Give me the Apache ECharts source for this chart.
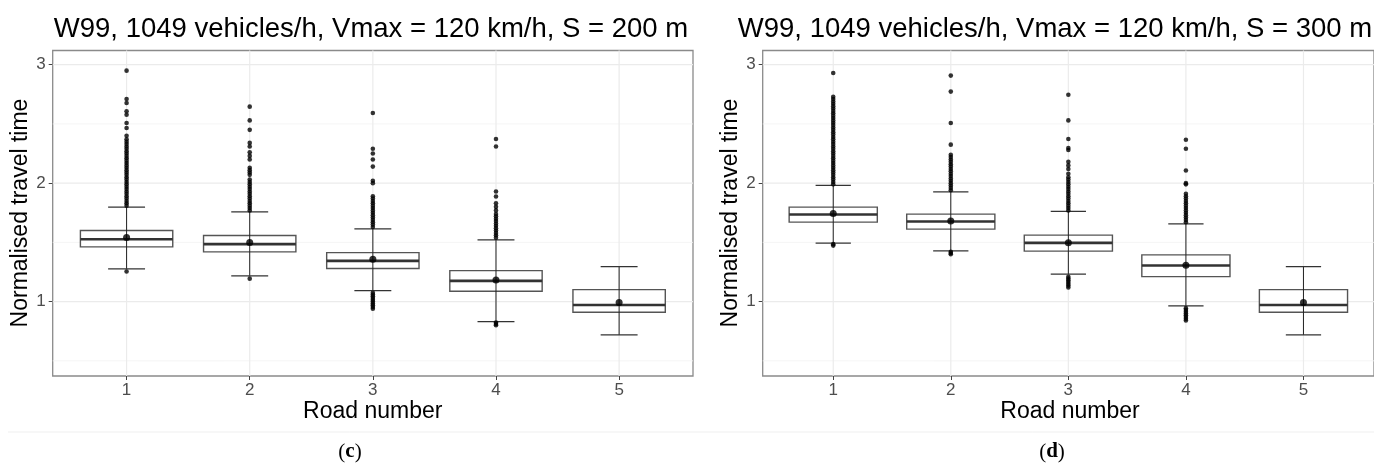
<!DOCTYPE html>
<html>
<head>
<meta charset="utf-8">
<script src="https://cdn.jsdelivr.net/npm/echarts@6/dist/echarts.min.js"></script>
<style>html,body{margin:0;padding:0;background:#fff}#c{width:1374px;height:464px}</style>
</head>
<body>
<div id="c"></div>
<script>
// ---------- data ----------
const roads = [1, 2, 3, 4, 5];
const yMajor = [1, 2, 3];
const yMinor = [0.5, 1.5, 2.5];
const titleC = 'W99, 1049 vehicles/h, Vmax = 120 km/h, S = 200 m';
const titleD = 'W99, 1049 vehicles/h, Vmax = 120 km/h, S = 300 m';
const xTitle = 'Road number';
const yTitle = 'Normalised travel time';

// panel (c) S = 200 m
const c_lowCap  = [1.276, 1.217, 1.093, 0.831, 0.719];
const c_q1      = [1.462, 1.420, 1.279, 1.088, 0.910];
const c_median  = [1.527, 1.485, 1.344, 1.175, 0.972];
const c_q3      = [1.600, 1.558, 1.414, 1.262, 1.101];
const c_highCap = [1.798, 1.758, 1.614, 1.522, 1.296];
const c_mean    = [1.541, 1.499, 1.358, 1.183, 0.992];
const c_out1 = [1.254, 1.81, 1.83, 1.85, 1.87, 1.89, 1.91, 1.93, 1.95, 1.97, 1.99, 2.01, 2.03, 2.05, 2.07, 2.09, 2.11, 2.13, 2.15, 2.17, 2.19, 2.21, 2.23, 2.25, 2.27, 2.29, 2.31, 2.33, 2.35, 2.37, 2.40, 2.466, 2.508, 2.578, 2.607, 2.677, 2.711, 2.95];
const c_out2 = [1.194, 1.77, 1.79, 1.81, 1.83, 1.85, 1.87, 1.89, 1.91, 1.93, 1.95, 1.97, 1.99, 2.01, 2.03, 2.07, 2.09, 2.11, 2.13, 2.20, 2.23, 2.26, 2.31, 2.34, 2.45, 2.53, 2.646];
const c_out3 = [0.94, 0.955, 0.97, 0.985, 1.00, 1.015, 1.03, 1.045, 1.06, 1.075, 1.63, 1.65, 1.67, 1.69, 1.71, 1.73, 1.75, 1.77, 1.79, 1.81, 1.83, 1.85, 1.87, 1.89, 2.00, 2.02, 2.14, 2.20, 2.25, 2.29, 2.592];
const c_out4 = [0.80, 0.812, 0.824, 1.54, 1.56, 1.58, 1.60, 1.62, 1.64, 1.66, 1.68, 1.70, 1.72, 1.74, 1.77, 1.80, 1.83, 1.888, 1.93, 2.31, 2.373];
const c_out5 = [];

// panel (d) S = 300 m
const d_lowCap  = [1.494, 1.429, 1.232, 0.964, 0.719];
const d_q1      = [1.671, 1.612, 1.426, 1.211, 0.910];
const d_median  = [1.735, 1.676, 1.496, 1.305, 0.972];
const d_q3      = [1.798, 1.739, 1.561, 1.395, 1.101];
const d_highCap = [1.981, 1.927, 1.761, 1.657, 1.296];
const d_mean    = [1.744, 1.680, 1.496, 1.308, 0.992];
const d_out1 = [1.473, 1.485, 1.99, 2.01, 2.03, 2.05, 2.07, 2.09, 2.11, 2.13, 2.15, 2.17, 2.19, 2.21, 2.23, 2.25, 2.27, 2.29, 2.31, 2.33, 2.35, 2.37, 2.39, 2.41, 2.43, 2.45, 2.47, 2.49, 2.51, 2.53, 2.55, 2.57, 2.59, 2.61, 2.63, 2.65, 2.67, 2.69, 2.71, 2.73, 2.93];
const d_out2 = [1.40, 1.41, 1.42, 1.94, 1.96, 1.98, 2.00, 2.02, 2.04, 2.06, 2.08, 2.10, 2.12, 2.14, 2.16, 2.18, 2.20, 2.22, 2.24, 2.325, 2.508, 2.773, 2.908];
const d_out3 = [1.12, 1.135, 1.15, 1.165, 1.18, 1.195, 1.21, 1.77, 1.79, 1.81, 1.83, 1.85, 1.87, 1.89, 1.91, 1.93, 1.95, 1.97, 1.99, 2.01, 2.03, 2.05, 2.08, 2.12, 2.15, 2.18, 2.28, 2.297, 2.373, 2.53, 2.747];
const d_out4 = [0.84, 0.855, 0.87, 0.885, 0.90, 0.915, 0.93, 0.945, 1.67, 1.69, 1.71, 1.73, 1.75, 1.77, 1.79, 1.81, 1.83, 1.85, 1.87, 1.89, 1.91, 1.99, 2.00, 2.107, 2.29, 2.367];
const d_out5 = [];

// ---------- build ----------
const chart = echarts.init(document.getElementById('c'), null, {renderer: 'canvas'});

function boxData(lo, q1, med, q3, hi) {
  return roads.map((r, i) => [r, lo[i], q1[i], med[i], q3[i], hi[i]]);
}
function outData(lists) {
  const res = [];
  lists.forEach((l, i) => l.forEach(v => res.push([roads[i], v])));
  return res;
}
function meanData(m) { return roads.map((r, i) => [r, m[i]]); }

function renderBox(params, api) {
  const x = api.value(0);
  const unit = api.size([1, 0])[0];
  const hw = unit * 0.375, cw = unit * 0.15;
  const pLo = api.coord([x, api.value(1)]);
  const pQ1 = api.coord([x, api.value(2)]);
  const pMd = api.coord([x, api.value(3)]);
  const pQ3 = api.coord([x, api.value(4)]);
  const pHi = api.coord([x, api.value(5)]);
  const cx = pMd[0];
  return {
    type: 'group',
    children: [
      {type: 'rect', shape: {x: cx - hw, y: pQ3[1], width: 2 * hw, height: pQ1[1] - pQ3[1]},
       style: {fill: '#fff', stroke: '#555', lineWidth: 1.4}},
      {type: 'line', shape: {x1: cx - hw, y1: pMd[1], x2: cx + hw, y2: pMd[1]},
       style: {stroke: '#333', lineWidth: 2.6}},
      {type: 'line', shape: {x1: cx, y1: pLo[1], x2: cx, y2: pHi[1]},
       style: {stroke: '#222', lineWidth: 1}},
      {type: 'line', shape: {x1: cx - cw, y1: pLo[1], x2: cx + cw, y2: pLo[1]},
       style: {stroke: '#333', lineWidth: 1.2}},
      {type: 'line', shape: {x1: cx - cw, y1: pHi[1], x2: cx + cw, y2: pHi[1]},
       style: {stroke: '#333', lineWidth: 1.2}}
    ]
  };
}
function renderHGrid(lw, color) {
  return function (params, api) {
    const cs = params.coordSys;
    const p = api.coord([1, api.value(0)]);
    return {type: 'line', shape: {x1: cs.x, y1: p[1], x2: cs.x + cs.width, y2: p[1]},
            style: {stroke: color, lineWidth: lw}, silent: true};
  };
}
function renderVGrid(params, api) {
  const cs = params.coordSys;
  const p = api.coord([api.value(0), 1]);
  return {type: 'line', shape: {x1: p[0], y1: cs.y, x2: p[0], y2: cs.y + cs.height},
          style: {stroke: '#ebebeb', lineWidth: 1.2}, silent: true};
}

const grids = [
  {left: 52.7, top: 50.5, width: 640.3, height: 325.5},
  {left: 762.7, top: 50.5, width: 615, height: 325.5}
];
grids.forEach(g => { g.show = true; g.borderColor = '#8a8a8a'; g.borderWidth = 1.3; g.backgroundColor = '#fff'; g.containLabel = false; });

function xAx(i) {
  return {type: 'value', gridIndex: i, min: 0.4, max: 5.6,
    axisLine: {show: false}, splitLine: {show: false},
    axisTick: {show: true, customValues: roads, length: 4, lineStyle: {color: '#444'}},
    axisLabel: {show: true, customValues: roads, fontSize: 17, color: '#4d4d4d', margin: 6, fontFamily: 'Liberation Sans, Arial'}};
}
function yAx(i) {
  return {type: 'value', gridIndex: i, min: 0.372, max: 3.12,
    axisLine: {show: false}, splitLine: {show: false},
    axisTick: {show: true, customValues: yMajor, length: 4, lineStyle: {color: '#444'}},
    axisLabel: {show: true, customValues: yMajor, fontSize: 17, color: '#4d4d4d', margin: 7, fontFamily: 'Liberation Sans, Arial'}};
}

function panelSeries(i, lo, q1, md, q3, hi, mean, outs) {
  return [
    {type: 'custom', xAxisIndex: i, yAxisIndex: i, data: yMinor.map(v => [v]), renderItem: renderHGrid(0.8, '#f2f2f2'), silent: true, z: 1},
    {type: 'custom', xAxisIndex: i, yAxisIndex: i, data: yMajor.map(v => [v]), renderItem: renderHGrid(1.2, '#ebebeb'), silent: true, z: 1},
    {type: 'custom', xAxisIndex: i, yAxisIndex: i, data: roads.map(v => [v]), renderItem: renderVGrid, silent: true, z: 1},
    {type: 'custom', xAxisIndex: i, yAxisIndex: i, data: boxData(lo, q1, md, q3, hi), renderItem: renderBox, z: 2},
    {type: 'scatter', xAxisIndex: i, yAxisIndex: i, data: outData(outs), symbolSize: 4.6, itemStyle: {color: '#000'}, z: 3},
    {type: 'scatter', xAxisIndex: i, yAxisIndex: i, data: meanData(mean), symbolSize: 7, itemStyle: {color: '#000'}, z: 4}
  ];
}

const option = {
  animation: false,
  backgroundColor: '#fff',
  grid: grids,
  xAxis: [xAx(0), xAx(1)],
  yAxis: [yAx(0), yAx(1)],
  series: [].concat(
    panelSeries(0, c_lowCap, c_q1, c_median, c_q3, c_highCap, c_mean, [c_out1, c_out2, c_out3, c_out4, c_out5]),
    panelSeries(1, d_lowCap, d_q1, d_median, d_q3, d_highCap, d_mean, [d_out1, d_out2, d_out3, d_out4, d_out5])
  ),
  graphic: [
    {type: 'line', shape: {x1: 8, y1: 432, x2: 1374, y2: 432}, style: {stroke: '#efefef', lineWidth: 1}, silent: true},
    {type: 'text', x: 371, y: 29, style: {text: titleC, fontSize: 27.5, fill: '#000', fontFamily: 'Liberation Sans, Arial', align: 'center', verticalAlign: 'middle'}},
    {type: 'text', x: 1055, y: 29, style: {text: titleD, fontSize: 27.5, fill: '#000', fontFamily: 'Liberation Sans, Arial', align: 'center', verticalAlign: 'middle'}},
    {type: 'text', x: 372.8, y: 412, style: {text: xTitle, fontSize: 23, fill: '#000', fontFamily: 'Liberation Sans, Arial', align: 'center', verticalAlign: 'middle'}},
    {type: 'text', x: 1070, y: 412, style: {text: xTitle, fontSize: 23, fill: '#000', fontFamily: 'Liberation Sans, Arial', align: 'center', verticalAlign: 'middle'}},
    {type: 'text', x: 21, y: 213, rotation: Math.PI / 2, style: {text: yTitle, fontSize: 23, fill: '#000', fontFamily: 'Liberation Sans, Arial', align: 'center', verticalAlign: 'middle'}},
    {type: 'text', x: 731, y: 213, rotation: Math.PI / 2, style: {text: yTitle, fontSize: 23, fill: '#000', fontFamily: 'Liberation Sans, Arial', align: 'center', verticalAlign: 'middle'}},
    {type: 'text', x: 350, y: 452, style: {text: '({b|c})', fontSize: 21, fill: '#000', fontFamily: 'Liberation Serif, serif', align: 'center', verticalAlign: 'middle',
      rich: {b: {fontSize: 21, fontWeight: 'bold', fontFamily: 'Liberation Serif, serif', fill: '#000'}}}},
    {type: 'text', x: 1052, y: 452, style: {text: '({b|d})', fontSize: 21, fill: '#000', fontFamily: 'Liberation Serif, serif', align: 'center', verticalAlign: 'middle',
      rich: {b: {fontSize: 21, fontWeight: 'bold', fontFamily: 'Liberation Serif, serif', fill: '#000'}}}}
  ]
};
chart.setOption(option);
</script>
</body>
</html>
